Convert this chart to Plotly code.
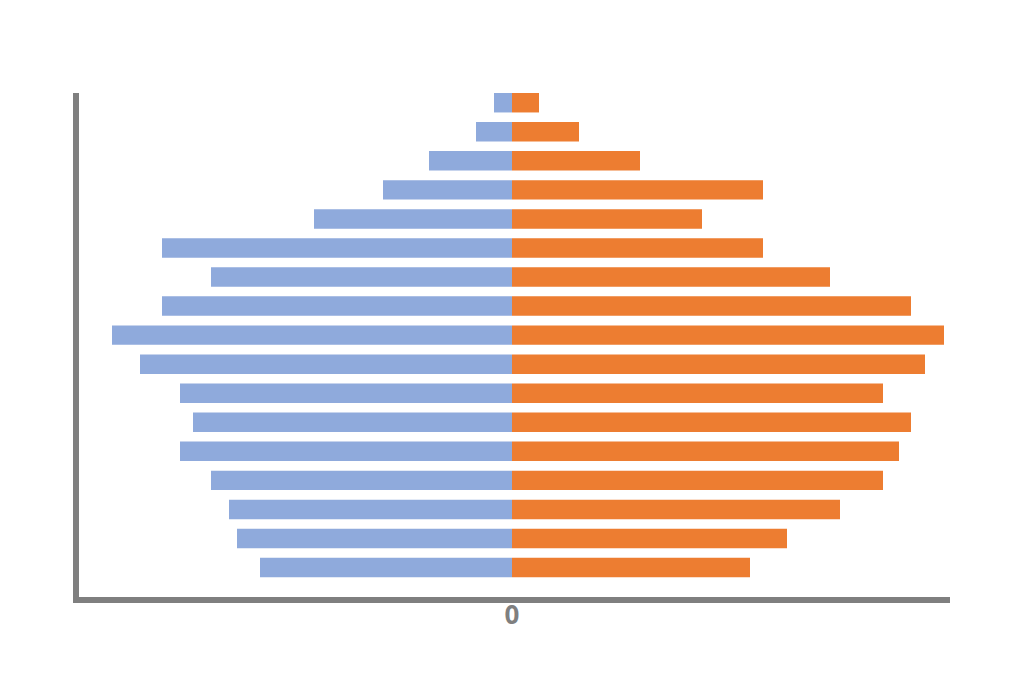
import plotly.graph_objects as go

age_groups = ["0-4", "5-9", "10-14", "15-19", "20-24", "25-29", "30-34", "35-39",
              "40-44", "45-49", "50-54", "55-59", "60-64", "65-69", "70-74", "75-79", "80+"]
# values listed from bottom (youngest) to top (oldest)
left_values = [252, 275, 283, 301, 332, 319, 332, 372, 400, 350, 301, 350, 198, 129, 83, 36, 18]
right_values = [238, 275, 328, 371, 387, 399, 371, 413, 432, 399, 318, 251, 190, 251, 128, 67, 27]

blue = "#8FAADC"
orange = "#ED7D31"
gray = "#7F7F7F"

fig = go.Figure()
fig.add_trace(go.Bar(
    y=age_groups, x=[-v for v in left_values], orientation="h",
    marker=dict(color=blue, line=dict(width=0)), width=0.67, name="left",
))
fig.add_trace(go.Bar(
    y=age_groups, x=right_values, orientation="h",
    marker=dict(color=orange, line=dict(width=0)), width=0.67, name="right",
))

fig.update_layout(
    width=1024, height=683,
    barmode="overlay",
    showlegend=False,
    plot_bgcolor="white", paper_bgcolor="white",
    margin=dict(l=71, r=82, t=85, b=94),
    xaxis=dict(
        range=[-433, 438], tickvals=[0], ticktext=["0"],
        showgrid=False, zeroline=False,
        showline=True, linecolor=gray, linewidth=6,
        ticks="", ticklen=0, ticklabelstandoff=-10,
        tickfont=dict(family="Open Sans", size=26, color=gray, weight="bold"),
        fixedrange=True,
    ),
    yaxis=dict(
        type="category", categoryorder="array", categoryarray=age_groups,
        range=[-1.015, 16.335],
        showticklabels=False, showgrid=False, zeroline=False,
        showline=True, linecolor=gray, linewidth=6, ticks="",
        fixedrange=True,
    ),
)

fig.write_html("out.html")
